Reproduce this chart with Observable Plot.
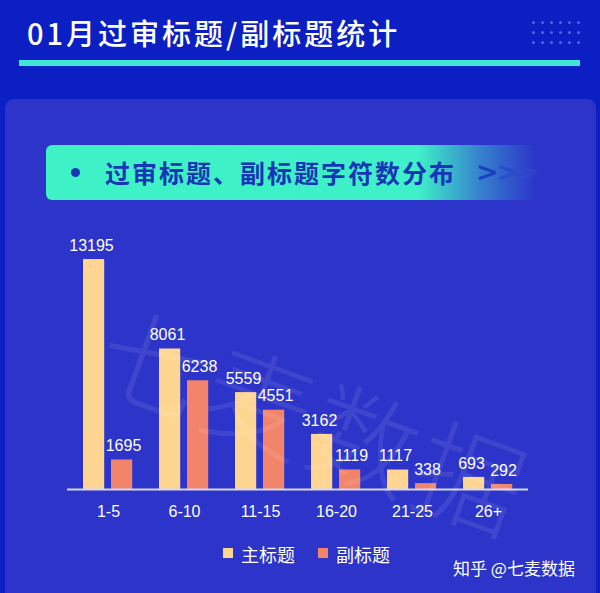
<!DOCTYPE html>
<html>
<head>
<meta charset="utf-8">
<script src="https://cdn.jsdelivr.net/npm/d3@7"></script>
<script src="https://cdn.jsdelivr.net/npm/@observablehq/plot@0.6"></script>
<style>
  html, body { margin: 0; padding: 0; }
  body { width: 600px; height: 593px; overflow: hidden; background: #0b1fc3; position: relative;
         font-family: "Noto Sans CJK SC", "Noto Sans", sans-serif; }
  .abs { position: absolute; }
  #title { left: 27px; top: 12px; font-size: 29px; font-weight: 500; color: #fff; letter-spacing: 3px; white-space: nowrap; line-height: 40px; }
  #line { left: 19px; top: 60px; width: 561px; height: 6px; background: #3fe6d8; }
  #panel { left: 5px; top: 99px; width: 591px; height: 520px; background: #2c34c9; border-radius: 9px; }
  #banner { left: 46px; top: 145px; width: 490px; height: 55px; border-radius: 6px;
            background: linear-gradient(to right, #3ef2c6 0%, #3ff0c8 76%, rgba(62,200,210,0.5) 89%, rgba(44,52,201,0) 100%); }
  #bannerText { left: 105px; top: 145px; height: 55px; line-height: 55px; font-size: 25px; font-weight: 700; color: #1736b6; letter-spacing: 2px; white-space: nowrap; }
  #bullet { left: 71px; top: 168px; width: 9px; height: 9px; border-radius: 50%; background: #1736b6; }
  #arrows { left: 476px; top: 145px; height: 55px; line-height: 53px; font-size: 27px; font-weight: 700; white-space: nowrap; letter-spacing: -2px; font-family: "DejaVu Sans", sans-serif; }
  #chart { left: 0; top: 220px; }
  #watermark { left: 105px; top: 262px; font-size: 108px; color: rgba(255,255,255,0.09); transform: rotate(20deg); transform-origin: 0 50%; white-space: nowrap; letter-spacing: 4px; font-weight: 300; }
  .legSq { width: 10px; height: 10px; top: 548px; }
  .legTx { top: 541px; font-size: 18px; color: #fff; line-height: 26px; white-space: nowrap; }
  #credit { left: 453px; top: 556px; font-size: 17px; color: #fff; line-height: 24px; white-space: nowrap; }
  .dot { width: 3px; height: 3px; border-radius: 50%; background: #4c6ae0; }
</style>
</head>
<body>
<div id="title" class="abs">01月过审标题/副标题统计</div>
<div id="line" class="abs"></div>
<div id="panel" class="abs"></div>
<div id="banner" class="abs"></div>
<div id="bullet" class="abs"></div>
<div id="bannerText" class="abs">过审标题、副标题字符数分布</div>
<div id="arrows" class="abs"><span style="color:#1b3fc2">&gt;</span><span style="color:#2a4ccc">&gt;</span><span style="color:#3550d0;opacity:0.4">&gt;</span></div>
<div id="chart" class="abs"></div>
<div id="watermark" class="abs">七麦数据</div>
<div id="legend"></div>
<div id="credit" class="abs">知乎 @七麦数据</div>
<script>
// ---- data ----
const categories = ["1-5", "6-10", "11-15", "16-20", "21-25", "26+"];
const mainTitle = [13195, 8061, 5559, 3162, 1117, 693];
const subTitle = [1695, 6238, 4551, 1119, 338, 292];
const seriesNames = ["主标题", "副标题"];
const seriesColors = ["#ffd592", "#f2846a"];

// decorative dots (top-right)
for (let r = 0; r < 3; r++) {
  for (let c = 0; c < 6; c++) {
    const d = document.createElement("div");
    d.className = "abs dot";
    d.style.left = (532 + c * 9) + "px";
    d.style.top = (21 + r * 10) + "px";
    document.body.appendChild(d);
  }
}

const mainRows = categories.map((cat, i) => ({cat, series: seriesNames[0], value: mainTitle[i]}));
const subRows = categories.map((cat, i) => ({cat, series: seriesNames[1], value: subTitle[i]}));

const chart = Plot.plot({
  width: 600,
  height: 310,
  marginLeft: 67,
  marginRight: 72,
  marginTop: 25,
  marginBottom: 41,
  style: {background: "transparent", color: "#fff", fontFamily: "'Liberation Sans', Arial, sans-serif"},
  x: {type: "band", domain: categories, padding: 0, axis: null},
  y: {domain: [0, 14000], axis: null},
  marks: [
    Plot.barY(mainRows, {x: "cat", y: "value", fill: seriesColors[0], insetLeft: 13, insetRight: 41.8}),
    Plot.barY(subRows, {x: "cat", y: "value", fill: seriesColors[1], insetLeft: 41, insetRight: 13.8}),
    Plot.ruleY([0], {stroke: "#d4d8f4", strokeWidth: 2}),
    Plot.text(mainRows, {x: "cat", y: "value", text: d => String(d.value), dx: -17, dy: -14, fill: "#fff", fontSize: 16}),
    Plot.text(subRows, {x: "cat", y: "value", text: d => String(d.value), dx: 15, dy: -14, fill: "#fff", fontSize: 16}),
    Plot.axisX({tickSize: 0, tickPadding: 16, fontSize: 16, fill: "#fff", label: null})
  ]
});
document.getElementById("chart").appendChild(chart);

// legend
const legendX = [223, 318];
seriesNames.forEach((name, i) => {
  const sq = document.createElement("div");
  sq.className = "abs legSq";
  sq.style.left = legendX[i] + "px";
  sq.style.background = seriesColors[i];
  document.body.appendChild(sq);
  const tx = document.createElement("div");
  tx.className = "abs legTx";
  tx.style.left = (legendX[i] + 18) + "px";
  tx.textContent = name;
  document.body.appendChild(tx);
});
</script>
</body>
</html>
